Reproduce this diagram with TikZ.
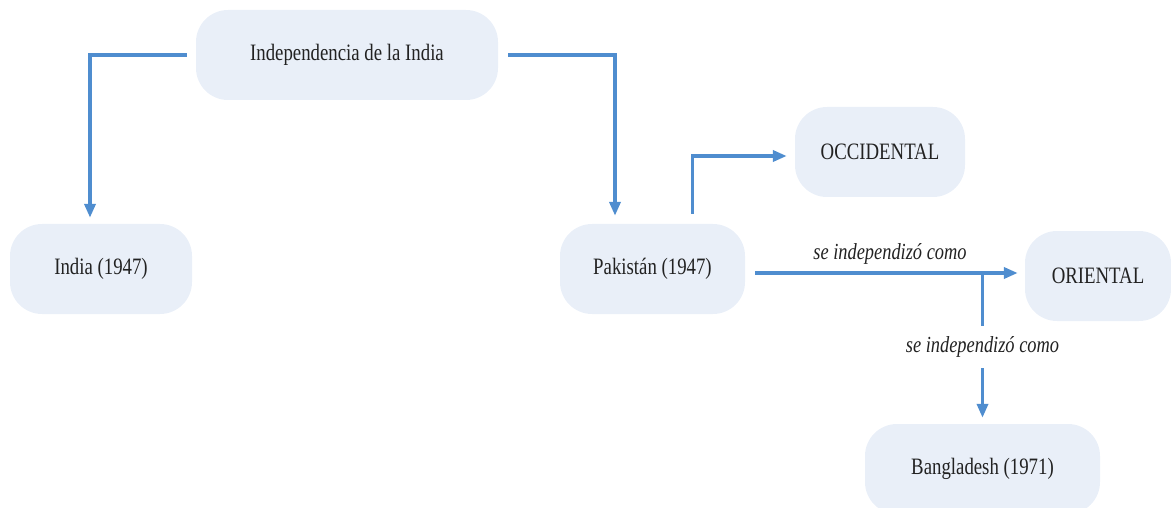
\documentclass[tikz,border=0pt]{standalone}
\usepackage{fontspec}
\setmainfont{Liberation Serif}[FakeStretch=0.8]
\usetikzlibrary{arrows.meta}
\definecolor{boxfill}{HTML}{E9EFF8}
\definecolor{linec}{HTML}{4F8DCF}
\definecolor{txt}{HTML}{222222}
\begin{document}
\begin{tikzpicture}[x=1pt,y=-1pt,
  box/.style={fill=boxfill, rounded corners=32pt, minimum width=#1, minimum height=90pt,
    inner sep=0pt, text=txt, font=\fontsize{23.5}{26}\selectfont},
  conn/.style={draw=linec, line width=3.5pt, -{Triangle[length=14pt,width=11pt]}},
  lbl/.style={text=txt, font=\itshape\fontsize{23}{26}\selectfont}]
\useasboundingbox (0,0) rectangle (1171,508);
\node[box=302pt] (indep) at (347,55) {Independencia de la India};
\node[box=182pt] (india) at (101,269) {India (1947)};
\node[box=185pt] (pak) at (652.5,269) {Pakistán (1947)};
\node[box=170pt] (occ) at (880,152) {OCCIDENTAL};
\node[box=146pt] (ori) at (1098,276) {ORIENTAL};
\node[box=235pt] (bang) at (982.5,469) {Bangladesh (1971)};
% connectors
\draw[conn] ([xshift=-9pt]indep.west) -| ([xshift=-11pt,yshift=6pt]india.north);
\draw[conn] ([xshift=10pt]indep.east) -| ([xshift=-37.5pt,yshift=8pt]pak.north);
\draw[conn] ([xshift=40pt,yshift=10pt]pak.north) |- ([xshift=-8pt,yshift=-4pt]occ.west);
\coordinate (hs) at ([xshift=10pt,yshift=-4pt]pak.east);
\draw[conn, shorten >=7pt] (hs) -- node[lbl, midway, above=4pt] {se independizó como} (hs -| ori.west);
\draw[conn] (hs -| bang.north) -- node[lbl, fill=white, inner sep=2pt, minimum height=42pt, pos=0.51] {se independizó como} ([yshift=6pt]bang.north);
\end{tikzpicture}
\end{document}
